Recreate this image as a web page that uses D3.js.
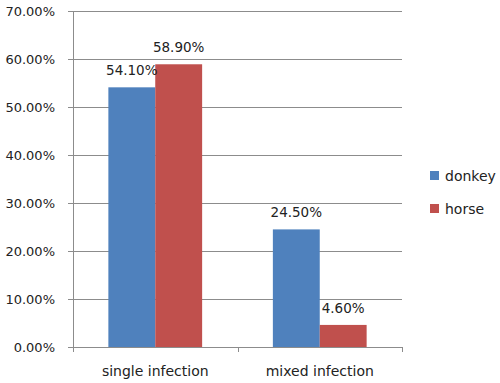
<!DOCTYPE html>
<html>
<head>
<meta charset="utf-8">
<script src="https://cdn.jsdelivr.net/npm/d3@7"></script>
<style>
  body { margin: 0; background: #fff; }
  text { font-family: "DejaVu Sans", sans-serif; fill: #222; }
</style>
</head>
<body>
<div id="chart"></div>
<script>
// chart data
var categories = ["single infection", "mixed infection"];
var seriesNames = ["donkey", "horse"];
var donkeyValues = [0.541, 0.245];
var horseValues = [0.589, 0.046];
var yTicks = [0, 0.1, 0.2, 0.3, 0.4, 0.5, 0.6, 0.7];
var colors = ["#4F81BD", "#C0504D"];

var width = 500, height = 383;
var plotLeft = 73, plotRight = 402, plotTop = 11, plotBottom = 347;

var svg = d3.select("#chart").append("svg").attr("width", width).attr("height", height);

var x = d3.scaleBand().domain(categories).range([plotLeft, plotRight]).paddingInner(0.43).paddingOuter(0.215);
var x1 = d3.scaleBand().domain(seriesNames).range([0, x.bandwidth()]);
var y = d3.scaleLinear().domain([0, 0.7]).range([plotBottom, plotTop]);

var fmt = d3.format(".2%");

// gridlines
svg.append("g")
  .selectAll("line")
  .data(yTicks)
  .enter()
  .append("line")
  .attr("x1", plotLeft - 5)
  .attr("x2", plotRight)
  .attr("y1", function (d) { return Math.round(y(d)) + 0.5; })
  .attr("y2", function (d) { return Math.round(y(d)) + 0.5; })
  .attr("stroke", "#8c8c8c")
  .attr("stroke-width", 1);

// y labels
svg.append("g")
  .selectAll("text")
  .data(yTicks)
  .enter()
  .append("text")
  .attr("x", plotLeft - 18)
  .attr("y", function (d) { return y(d) + 5; })
  .attr("text-anchor", "end")
  .style("font-size", "13px")
  .text(function (d) { return fmt(d); });

// y axis line
svg.append("line")
  .attr("x1", plotLeft + 0.5).attr("x2", plotLeft + 0.5)
  .attr("y1", plotTop).attr("y2", plotBottom)
  .attr("stroke", "#8c8c8c");

// bars
var data = [];
categories.forEach(function (c, i) {
  data.push({cat: c, series: "donkey", value: donkeyValues[i]});
  data.push({cat: c, series: "horse", value: horseValues[i]});
});

svg.append("g")
  .selectAll("rect")
  .data(data)
  .enter()
  .append("rect")
  .attr("x", function (d) { return x(d.cat) + x1(d.series); })
  .attr("y", function (d) { return y(d.value); })
  .attr("width", x1.bandwidth())
  .attr("height", function (d) { return y(0) - y(d.value); })
  .attr("fill", function (d) { return colors[seriesNames.indexOf(d.series)]; });

// value labels
svg.append("g")
  .selectAll("text")
  .data(data)
  .enter()
  .append("text")
  .attr("x", function (d) { return x(d.cat) + x1(d.series) + x1.bandwidth() / 2; })
  .attr("y", function (d) { return y(d.value) - 12; })
  .attr("text-anchor", "middle")
  .style("font-size", "13.5px")
  .text(function (d) { return fmt(d.value); });

// x axis line + ticks
var step = x.step();
var xTicks = [plotLeft, plotLeft + step, plotLeft + 2 * step];
svg.append("line")
  .attr("x1", plotLeft).attr("x2", plotRight)
  .attr("y1", plotBottom + 0.5).attr("y2", plotBottom + 0.5)
  .attr("stroke", "#8c8c8c");
svg.append("g")
  .selectAll("line")
  .data(xTicks)
  .enter()
  .append("line")
  .attr("x1", function (d) { return Math.round(d) + 0.5; })
  .attr("x2", function (d) { return Math.round(d) + 0.5; })
  .attr("y1", plotBottom)
  .attr("y2", plotBottom + 5)
  .attr("stroke", "#8c8c8c");

// category labels
svg.append("g")
  .selectAll("text")
  .data(categories)
  .enter()
  .append("text")
  .attr("x", function (d) { return x(d) + x.bandwidth() / 2; })
  .attr("y", 376)
  .attr("text-anchor", "middle")
  .style("font-size", "14px")
  .text(function (d) { return d; });

// legend
var legend = svg.append("g")
  .selectAll("g")
  .data(seriesNames)
  .enter()
  .append("g")
  .attr("transform", function (d, i) { return "translate(430," + (171 + i * 33) + ")"; });
legend.append("rect")
  .attr("width", 9).attr("height", 9)
  .attr("fill", function (d, i) { return colors[i]; });
legend.append("text")
  .attr("x", 15)
  .attr("y", 9.5)
  .style("font-size", "14px")
  .text(function (d) { return d; });
</script>
</body>
</html>
